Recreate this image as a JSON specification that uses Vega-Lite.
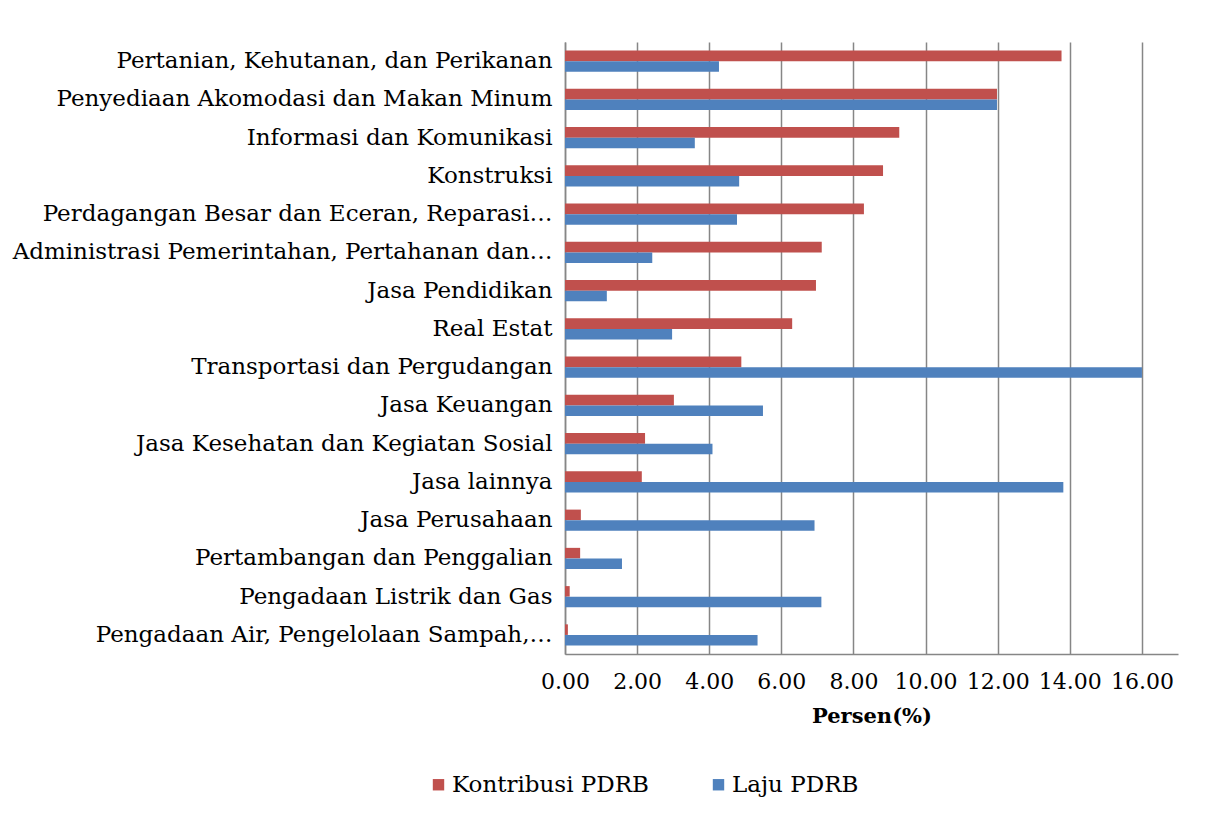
{
  "$schema": "https://vega.github.io/schema/vega-lite/v6.json",
  "autosize": {"type": "none"},
  "padding": {"left": 565, "top": 42, "right": 53, "bottom": 160},
  "width": 613,
  "height": 612,
  "background": "white",
  "data": {
    "values": [
      {"sektor": "Pertanian, Kehutanan, dan Perikanan", "seri": "Kontribusi PDRB", "nilai": 13.77},
      {"sektor": "Pertanian, Kehutanan, dan Perikanan", "seri": "Laju PDRB", "nilai": 4.27},
      {"sektor": "Penyediaan Akomodasi dan Makan Minum", "seri": "Kontribusi PDRB", "nilai": 11.98},
      {"sektor": "Penyediaan Akomodasi dan Makan Minum", "seri": "Laju PDRB", "nilai": 11.98},
      {"sektor": "Informasi dan Komunikasi", "seri": "Kontribusi PDRB", "nilai": 9.27},
      {"sektor": "Informasi dan Komunikasi", "seri": "Laju PDRB", "nilai": 3.6},
      {"sektor": "Konstruksi", "seri": "Kontribusi PDRB", "nilai": 8.82},
      {"sektor": "Konstruksi", "seri": "Laju PDRB", "nilai": 4.83},
      {"sektor": "Perdagangan Besar dan Eceran, Reparasi…", "seri": "Kontribusi PDRB", "nilai": 8.29},
      {"sektor": "Perdagangan Besar dan Eceran, Reparasi…", "seri": "Laju PDRB", "nilai": 4.77},
      {"sektor": "Administrasi Pemerintahan, Pertahanan dan…", "seri": "Kontribusi PDRB", "nilai": 7.12},
      {"sektor": "Administrasi Pemerintahan, Pertahanan dan…", "seri": "Laju PDRB", "nilai": 2.42},
      {"sektor": "Jasa Pendidikan", "seri": "Kontribusi PDRB", "nilai": 6.96},
      {"sektor": "Jasa Pendidikan", "seri": "Laju PDRB", "nilai": 1.16},
      {"sektor": "Real Estat", "seri": "Kontribusi PDRB", "nilai": 6.3},
      {"sektor": "Real Estat", "seri": "Laju PDRB", "nilai": 2.97},
      {"sektor": "Transportasi dan Pergudangan ", "seri": "Kontribusi PDRB", "nilai": 4.89},
      {"sektor": "Transportasi dan Pergudangan ", "seri": "Laju PDRB", "nilai": 16.0},
      {"sektor": "Jasa Keuangan", "seri": "Kontribusi PDRB", "nilai": 3.02},
      {"sektor": "Jasa Keuangan", "seri": "Laju PDRB", "nilai": 5.49},
      {"sektor": "Jasa Kesehatan dan Kegiatan Sosial", "seri": "Kontribusi PDRB", "nilai": 2.22},
      {"sektor": "Jasa Kesehatan dan Kegiatan Sosial", "seri": "Laju PDRB", "nilai": 4.09},
      {"sektor": "Jasa lainnya", "seri": "Kontribusi PDRB", "nilai": 2.13},
      {"sektor": "Jasa lainnya", "seri": "Laju PDRB", "nilai": 13.82},
      {"sektor": "Jasa Perusahaan", "seri": "Kontribusi PDRB", "nilai": 0.44},
      {"sektor": "Jasa Perusahaan", "seri": "Laju PDRB", "nilai": 6.92},
      {"sektor": "Pertambangan dan Penggalian ", "seri": "Kontribusi PDRB", "nilai": 0.42},
      {"sektor": "Pertambangan dan Penggalian ", "seri": "Laju PDRB", "nilai": 1.58},
      {"sektor": "Pengadaan Listrik dan Gas", "seri": "Kontribusi PDRB", "nilai": 0.13},
      {"sektor": "Pengadaan Listrik dan Gas", "seri": "Laju PDRB", "nilai": 7.11},
      {"sektor": "Pengadaan Air, Pengelolaan Sampah,…", "seri": "Kontribusi PDRB", "nilai": 0.08},
      {"sektor": "Pengadaan Air, Pengelolaan Sampah,…", "seri": "Laju PDRB", "nilai": 5.34}
    ]
  },
  "mark": {"type": "bar"},
  "encoding": {
    "y": {
      "field": "sektor",
      "type": "nominal",
      "sort": null,
      "scale": {"paddingInner": 0.45, "paddingOuter": 0.225},
      "axis": {
        "title": null,
        "ticks": false,
        "labelPadding": 13,
        "labelFontSize": 23,
        "labelFont": "DejaVu Serif",
        "labelColor": "#000000",
        "labelLimit": 620,
        "domainColor": "#868686",
        "domainWidth": 1.5
      }
    },
    "yOffset": {
      "field": "seri",
      "type": "nominal",
      "sort": ["Kontribusi PDRB", "Laju PDRB"]
    },
    "x": {
      "field": "nilai",
      "type": "quantitative",
      "scale": {"domain": [0, 17], "nice": false},
      "axis": {
        "title": "Persen(%)",
        "titleFont": "DejaVu Serif",
        "titleFontSize": 21,
        "titleFontWeight": "bold",
        "titleColor": "#000000",
        "titlePadding": 13,
        "values": [0, 2, 4, 6, 8, 10, 12, 14, 16],
        "format": ".2f",
        "ticks": false,
        "labelPadding": 17,
        "labelFontSize": 22,
        "labelFont": "DejaVu Serif",
        "labelColor": "#000000",
        "labelFlush": false,
        "labelOverlap": false,
        "grid": true,
        "gridColor": "#868686",
        "gridWidth": 1.5,
        "domainColor": "#868686",
        "domainWidth": 1.5
      }
    },
    "color": {
      "field": "seri",
      "type": "nominal",
      "scale": {"domain": ["Kontribusi PDRB", "Laju PDRB"], "range": ["#C0504D", "#4F81BD"]},
      "legend": {
        "title": null,
        "orient": "none",
        "legendX": -138,
        "legendY": 731,
        "direction": "horizontal",
        "symbolType": "square",
        "symbolSize": 130,
        "symbolStrokeWidth": 0,
        "labelFont": "DejaVu Serif",
        "labelFontSize": 23,
        "labelColor": "#000000",
        "labelLimit": 400,
        "labelOffset": 2,
        "columnPadding": 58
      }
    }
  },
  "config": {
    "view": {"stroke": null},
    "axis": {"gridDash": []}
  }
}
